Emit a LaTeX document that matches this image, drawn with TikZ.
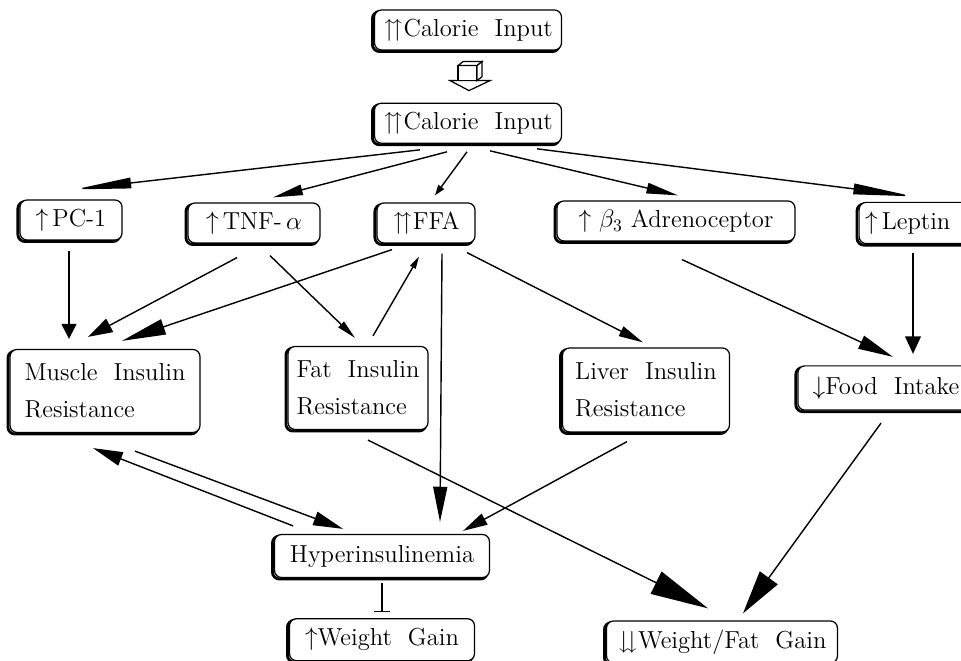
\documentclass[tikz,border=0pt]{standalone}
\usepackage{amsmath}
\usepackage{amssymb}
\usepackage{tikz}
\usetikzlibrary{arrows.meta, positioning, calc, backgrounds}

\begin{document}
\begin{tikzpicture}[
    x=0.02cm, y=-0.02cm,
    font=\fontsize{14}{21}\selectfont,
    plainbox/.style={rectangle, rounded corners=4pt, line width=0.7pt,
        minimum height=0.8cm, inner sep=3pt, align=left},
    box/.style={plainbox, draw=black, fill=white,
        preaction={draw=black, line width=1.6pt, transform canvas={shift={(-1.2pt,-0.9pt)}}}},
    arrow/.style 2 args={-{Triangle[length=#1pt, width=#2pt]}, line width=0.8pt},
    stub/.style={-{Bar[width=9pt, line width=0.8pt]}, line width=0.8pt}
]
\useasboundingbox (0,0) rectangle (961,661);

\node[box, minimum width=3.74cm] (cal1) at (468,30) {$\upuparrows$Calorie\ \ Input};
\node[box, minimum width=3.74cm, below=1.04cm of cal1] (cal2) {$\upuparrows$Calorie\ \ Input};

\node[box, minimum width=2.04cm] (pc1) at (71,220) {$\uparrow$\,PC-1};
\node[box, minimum width=2.64cm] (tnf) at (254,223) {$\uparrow$\,TNF-\,$\alpha$};
\node[box, minimum width=1.96cm] (ffa) at (426,223) {$\upuparrows$FFA};
\node[box, minimum width=4.76cm] (beta) at (676,221) {$\uparrow$ $\beta_3$ Adrenoceptor};
\node[plainbox, text width=2.6cm] (leptin) at (930,223) {$\uparrow$\,Leptin};

\node[box, minimum width=3.8cm, minimum height=1.66cm] (muscle) at (105,391) {Muscle\ \ Insulin\\Resistance};
\node[box, minimum width=2.8cm, minimum height=1.66cm] (fat) at (358,388) {Fat\ \ Insulin\\Resistance};
\node[box, minimum width=3.34cm, minimum height=1.68cm] (liver) at (646,390) {Liver\ \ Insulin\\Resistance};
\node[plainbox, minimum width=3.5cm, minimum height=0.86cm] (food) at (886,388) {$\downarrow$Food\ \ Intake};

\node[box, minimum width=4.3cm, minimum height=0.86cm] (hyper) at (382,556) {Hyperinsulinemia};
\node[box, minimum width=3.7cm, minimum height=0.84cm, below=0.8cm of hyper] (wgain) {$\uparrow$Weight\ \ Gain};
\node[box, minimum width=4.62cm, minimum height=0.84cm] (wfgain) at (722,642) {$\downdownarrows$Weight/Fat\ \ Gain};

% the two boxes cut off by the right margin
\begin{scope}[on background layer]
\foreach \n in {leptin, food} {
    \draw[line width=1.6pt, rounded corners=4pt, transform canvas={shift={(-1.2pt,-0.9pt)}}]
        (\n.north east) -- (\n.north west) -- (\n.south west) -- (\n.south east);
    \draw[line width=0.7pt, rounded corners=4pt, fill=white]
        (\n.north east) -- (\n.north west) -- (\n.south west) -- (\n.south east);
}
\end{scope}

% hollow block arrow between the two calorie boxes
\coordinate (blk) at ($(cal1.south)!0.5!(cal2.north)$);
\draw[line width=0.7pt, fill=white] ($(blk)+(-18,4)$) -- ($(blk)+(22,4)$) -- ($(blk)+(1,14)$) -- cycle;
\draw[line width=0.7pt, fill=white] ($(blk)+(-10,-11)$) rectangle ($(blk)+(9,4)$);
\draw[line width=0.7pt, fill=white] ($(blk)+(-10,-11)$) -- ($(blk)+(-5,-15)$) -- ($(blk)+(14,-15)$) -- ($(blk)+(9,-11)$) -- cycle;
\draw[line width=0.7pt, fill=white] ($(blk)+(9,-11)$) -- ($(blk)+(14,-15)$) -- ($(blk)+(14,0)$) -- ($(blk)+(9,4)$) -- cycle;

\draw[arrow={32}{6}] ($(cal2.south)+(-48,6)$) -- ($(pc1.north)+(4,-10)$);
\draw[arrow={17}{6}] ($(cal2.south)+(-21,8)$) -- ($(tnf.north)+(19,-5)$);
\draw[arrow={6}{4}] ($(cal2.south)+(-1,8)$) -- ($(ffa.north)+(9,-7)$);
\draw[arrow={18}{6}] ($(cal2.south)+(22,7)$) -- ($(beta.north)+(2,-5)$);
\draw[arrow={34}{6}] ($(cal2.south)+(69,5)$) -- ($(leptin.north)+(-17,-6)$);

\draw[arrow={8.5}{8.5}] ($(pc1.south)+(-2,10)$) -- ($(muscle.north)+(-36,-10)$);
\draw[arrow={14}{8.5}] ($(tnf.south)+(-17,14)$) -- ($(muscle.north)+(-17,-12)$);
\draw[arrow={25}{9}] ($(ffa.south)+(-34,6)$) -- ($(muscle.north)+(17,-8)$);
\draw[arrow={11}{4.5}] ($(tnf.south)+(16,12)$) -- ($(fat.north)+(-3,-8)$);
\draw[arrow={7}{3.5}] ($(fat.north)+(15,-10)$) -- ($(ffa.south)+(-7,13)$);
\draw[arrow={20}{8}] ($(ffa.south)+(16,10)$) -- ($(hyper.north)+(58,-12)$);
\draw[arrow={14}{6}] ($(ffa.south)+(41,9)$) -- ($(liver.north)+(-3,-5)$);
\draw[arrow={20}{8}] ($(beta.south)+(6,18)$) -- ($(food.north)+(7,-9)$);
\draw[arrow={10}{9}] ($(leptin.south)+(-17,9)$) -- ($(food.north)+(27,-12)$);

\draw[arrow={17}{8}] ($(hyper.north)+(-89,-8)$) -- ($(muscle.south)+(-12,15)$);
\draw[arrow={17}{8}] ($(muscle.south)+(30,18)$) -- ($(hyper.north)+(-39,-5)$);
\draw[arrow={14}{7}] ($(liver.south)+(-19,9)$) -- ($(hyper.north)+(81,-3)$);
\draw[arrow={33}{14}] ($(fat.south)+(10,10)$) -- ($(wfgain.north)+(-14,-12)$);
\draw[arrow={25}{12.5}] ($(food.south)+(-5,13)$) -- ($(wfgain.north)+(21,-7)$);
\draw[stub] ($(hyper.south)+(0,5)$) -- ($(wgain.north)+(0,-6)$);
\end{tikzpicture}
\end{document}
